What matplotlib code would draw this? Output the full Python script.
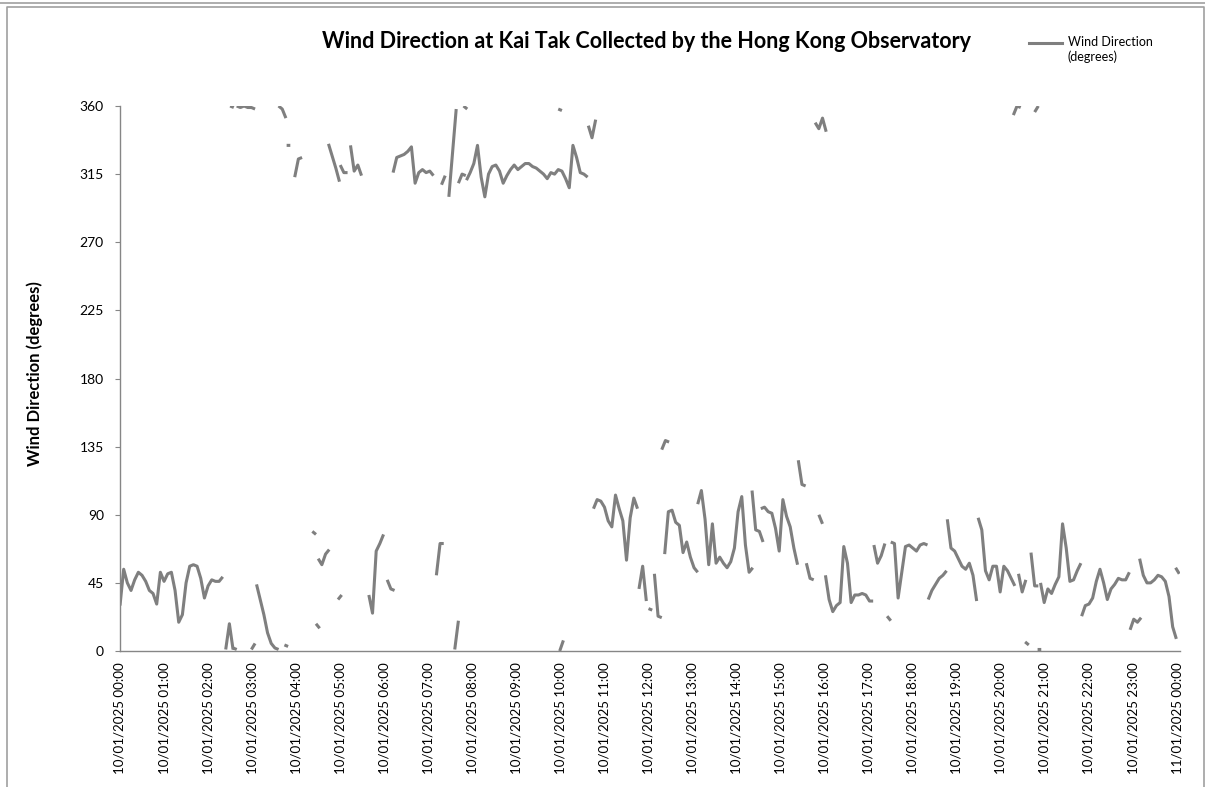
import numpy as np
import pandas as pd
import matplotlib
matplotlib.use("Agg")
import matplotlib.pyplot as plt
import matplotlib.dates as mdates
from matplotlib.lines import Line2D

DAY = "2025-01-10"
STEP_MIN = 5  # readings within a run are 5 minutes apart

# Each run: time of first reading, then wind direction readings (degrees).
runs_00_06 = [
    ("00:00", [30, 54, 45, 40, 47, 52, 50, 46, 40, 38, 31, 52, 46, 51, 52, 40, 19, 24,
               45, 56, 57, 56, 48, 35, 43, 47, 46, 46, 49]),
    ("02:24", [1, 18, 1]),
    ("02:30", [360, 359]),
    ("02:34", [2, 1]),
    ("02:39", [360, 359, 360, 359, 359, 358]),
    ("02:59", [1, 5]),
    ("03:06", [44, 34, 24, 12, 5, 2, 1]),
    ("03:36", [360, 358, 352]),
    ("03:44", [4, 3]),
    ("03:47", [334, 334]),
    ("03:58", [313, 325, 326]),
    ("04:22", [79, 77]),
    ("04:27", [18, 15]),
    ("04:30", [61, 57, 64, 67]),
    ("04:44", [335, 327, 319, 310]),
    ("04:57", [34, 37]),
    ("05:00", [321, 316, 316]),
    ("05:14", [334, 317, 321, 314]),
    ("05:39", [37, 25, 66, 71, 77]),
]

runs_06_12 = [
    ("06:04", [47, 41, 40]),
    ("06:12", [316, 326, 327, 328, 330, 333, 309, 316, 318, 316, 317, 314]),
    ("07:11", [50, 71, 71]),
    ("07:18", [308, 314]),
    ("07:28", [300, 329, 358]),
    ("07:36", [1, 20]),
    ("07:41", [309, 315, 314]),
    ("07:48", [360, 358]),
    ("07:52", [311, 316, 322, 334, 313, 300, 315, 320, 321, 317, 309, 314, 318, 321,
               318, 320, 322, 322, 320, 319, 317, 315, 312, 316, 315, 318, 317, 312,
               306, 334, 326, 316, 315, 313]),
    ("09:57", [358, 357]),
    ("09:59", [0, 7]),
    ("10:38", [347, 339, 351]),
    ("10:45", [94, 100, 99, 95, 86, 82, 103, 94, 86, 60, 88, 101, 94]),
    ("11:47", [41, 56, 33]),
]

runs_12_18 = [
    ("12:00", [28, 27]),
    ("12:08", [51, 23, 22]),
    ("12:18", [133, 139, 138]),
    ("12:22", [64, 92, 93, 85, 83, 65, 72, 62, 55, 52]),
    ("13:07", [97, 106, 87, 57, 84, 58, 62, 58, 55, 59, 68, 92, 102, 70, 52, 55]),
    ("14:21", [106, 80, 79, 72]),
    ("14:33", [94, 95, 92, 91, 81, 66, 100, 89, 82, 68, 57]),
    ("15:24", [126, 110, 109]),
    ("15:35", [58, 48, 47]),
    ("15:47", [349, 345, 352, 343]),
    ("15:52", [90, 84]),
    ("16:01", [50, 34, 26, 30, 32, 69, 58, 32, 37, 37, 38, 37, 33, 33]),
    ("17:07", [70, 58, 63, 71]),
    ("17:25", [23, 20]),
    ("17:30", [72, 71, 35, 52, 69, 70, 68, 66, 70, 71, 70]),
]

runs_18_24 = [
    ("18:21", [34, 40, 44, 48, 50, 53]),
    ("18:47", [87, 68, 66, 61, 56, 54, 58, 50, 33]),
    ("19:29", [88, 80, 53, 47, 56, 56, 39, 56, 53, 48, 43]),
    ("20:17", [354, 360, 359]),
    ("20:24", [51, 39, 47]),
    ("20:33", [6, 4]),
    ("20:41", [65, 43, 43]),
    ("20:46", [356, 360]),
    ("20:50", [1, 1]),
    ("20:54", [45, 32, 41, 38, 44, 49, 84, 68, 46, 47, 53, 58]),
    ("21:50", [23, 30, 31, 35, 46, 54, 45, 34, 41, 44, 48, 47, 47, 52]),
    ("22:56", [14, 21, 19, 22]),
    ("23:09", [61, 50, 45, 45, 47, 50, 49, 46, 36, 16, 8]),
    ("23:58", [55, 51]),
]

y_ticks = [0, 45, 90, 135, 180, 225, 270, 315, 360]
title = "Wind Direction at Kai Tak Collected by the Hong Kong Observatory"
series_name = "Wind Direction\n(degrees)"
y_title = "Wind Direction (degrees)"

LINE_COLOR = "#7f7f7f"
AXIS_COLOR = "#868686"
plt.rcParams["font.family"] = ["Lato", "DejaVu Sans"]

W, H = 1205, 787
fig = plt.figure(figsize=(W / 100, H / 100), dpi=100)


def fx(px):
    return px / W


def fy(py):
    return 1 - py / H


# chart-area frame
fig.add_artist(Line2D([0, 1], [fy(3), fy(3)], color="#a0a0a0", lw=1.2))
fig.add_artist(Line2D([fx(6.5), fx(6.5), fx(1203.5), fx(1203.5)],
                      [fy(H + 5), fy(7), fy(7), fy(H + 5)], color="#a0a0a0", lw=1.2))

ax = fig.add_axes([fx(120), fy(651), fx(1180) - fx(120), fy(106) - fy(651)])

# concatenate runs with NaN breaks between them
xs, ys = [], []
for start, vals in runs_00_06 + runs_06_12 + runs_12_18 + runs_18_24:
    t = pd.Timestamp(f"{DAY} {start}") + pd.to_timedelta(np.arange(len(vals)) * STEP_MIN, unit="min")
    xs.extend(mdates.date2num(t.to_pydatetime()))
    ys.extend(vals)
    xs.append(xs[-1])
    ys.append(np.nan)
ax.plot(xs, ys, color=LINE_COLOR, lw=2.2, solid_joinstyle="round", solid_capstyle="butt")

x0 = mdates.date2num(pd.Timestamp(f"{DAY} 00:00").to_pydatetime())
x1 = mdates.date2num(pd.Timestamp("2025-01-11 00:04").to_pydatetime())
ax.set_xlim(x0, x1)
ax.set_ylim(0, 360)
ax.set_yticks(y_ticks)
ax.xaxis.set_major_locator(mdates.HourLocator(interval=1))
ax.xaxis.set_major_formatter(mdates.DateFormatter("%d/%m/%Y %H:%M"))

for s in ("top", "right"):
    ax.spines[s].set_visible(False)
for s in ("left", "bottom"):
    ax.spines[s].set_color(AXIS_COLOR)
    ax.spines[s].set_linewidth(1.0)

ax.tick_params(axis="y", direction="out", length=3.6, width=0.8, color=AXIS_COLOR,
               pad=8, labelsize=10, labelcolor="black")
ax.tick_params(axis="x", direction="out", length=0, pad=8, labelsize=9.6,
               labelcolor="black", labelrotation=90)

fig.text(fx(646), fy(41), title, ha="center", va="center", fontsize=15.5,
         fontweight="bold")
fig.text(fx(35), fy(374), y_title, ha="center", va="center", rotation=90,
         fontsize=12, fontweight="bold")

# legend
fig.add_artist(Line2D([fx(1029), fx(1062)], [fy(43), fy(43)], color=LINE_COLOR, lw=2.2))
fig.text(fx(1068), fy(36), series_name, ha="left", va="top", fontsize=9,
         linespacing=1.25)

fig.savefig("out.png", dpi=100)
